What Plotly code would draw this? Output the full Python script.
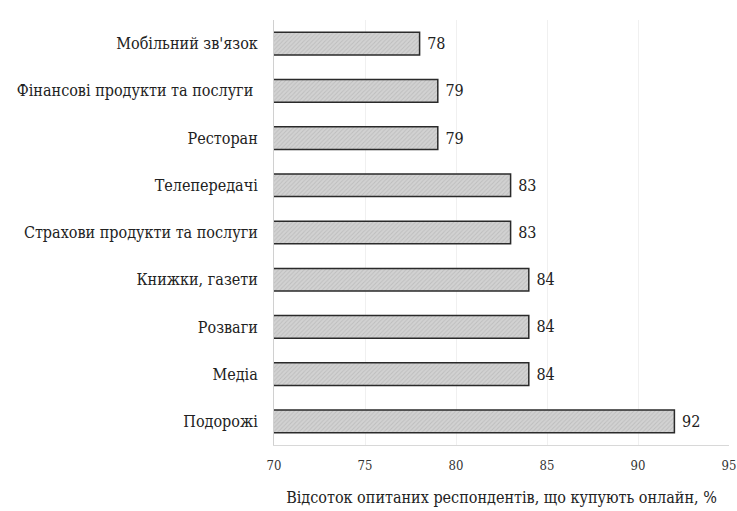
import plotly.graph_objects as go

categories = [
    "Мобільний зв'язок",
    "Фінансові продукти та послуги ",
    "Ресторан",
    "Телепередачі",
    "Страхови продукти та послуги",
    "Книжки, газети",
    "Розваги",
    "Медіа",
    "Подорожі",
]
values = [78, 79, 79, 83, 83, 84, 84, 84, 92]
x_ticks = [70, 75, 80, 85, 90, 95]
x_title = "Відсоток опитаних респондентів, що купують онлайн, %"

serif = "DejaVu Serif Condensed, DejaVu Serif"

fig = go.Figure(
    go.Bar(
        y=categories,
        x=values,
        base=0,
        orientation="h",
        marker=dict(
            color="#cdcdcd",
            line=dict(color="#2a2a2a", width=1.5),
            pattern=dict(shape="/", size=3, solidity=0.3, fgcolor="#a8a8a8", bgcolor="#d2d2d2"),
        ),
        text=[" " + str(v) for v in values],
        textposition="outside",
        textfont=dict(family=serif, size=16, color="#222222"),
        cliponaxis=False,
    )
)

fig.update_layout(
    width=737,
    height=511,
    margin=dict(l=274, r=8, t=20, b=66),
    paper_bgcolor="white",
    plot_bgcolor="white",
    bargap=0.52,
    showlegend=False,
    font=dict(family=serif, color="#222222"),
    xaxis=dict(
        range=[70, 95],
        tickvals=x_ticks,
        ticks="",
        automargin=False,
        ticklabeloverflow="allow",
        showgrid=True,
        gridcolor="#f0f0f0",
        gridwidth=1,
        showline=True,
        linecolor="#d8d8d8",
        linewidth=1,
        zeroline=False,
        ticklabelstandoff=8,
        tickfont=dict(family=serif, size=13, color="#333333"),
        title=dict(text=x_title, font=dict(family=serif, size=16, color="#222222"), standoff=20),
    ),
    yaxis=dict(
        autorange="reversed",
        automargin=False,
        showgrid=False,
        showline=True,
        linecolor="#d0d0d0",
        linewidth=1,
        ticks="",
        ticklabelstandoff=12,
        tickfont=dict(family=serif, size=16, color="#222222"),
    ),
)

fig.write_html("out.html")
